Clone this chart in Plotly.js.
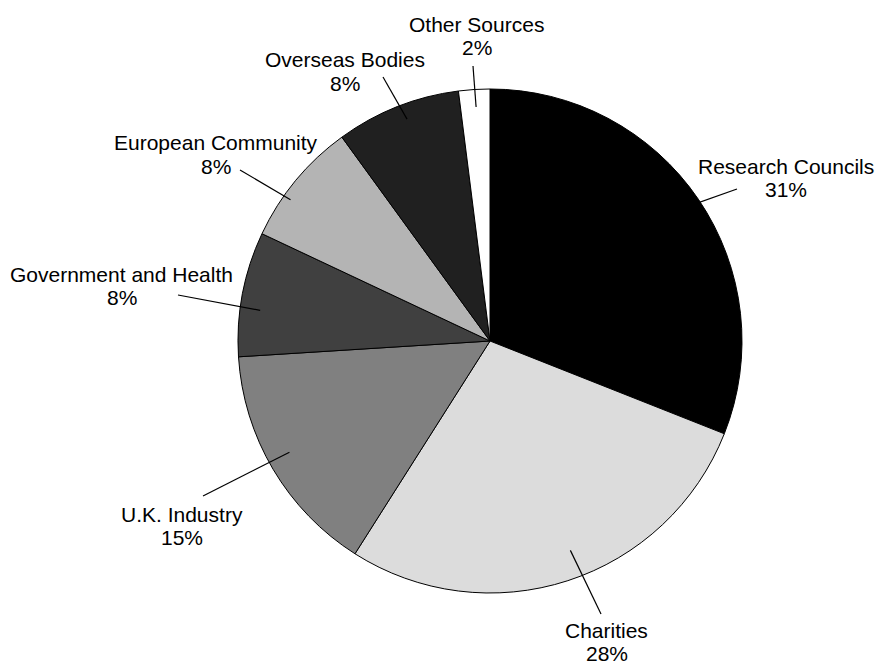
<!DOCTYPE html>
<html>
<head>
<meta charset="utf-8">
<script src="https://cdn.plot.ly/plotly-3.0.1.min.js"></script>
<style>html,body{margin:0;padding:0;background:#fff;}#chart{width:881px;height:666px;}</style>
</head>
<body>
<div id="chart"></div>
<script>
// ---- data ----
const categories = ['Research Councils', 'Charities', 'U.K. Industry', 'Government and Health', 'European Community', 'Overseas Bodies', 'Other Sources'];
const shares = [31, 28, 15, 8, 8, 8, 2];
const sliceColors = ['#000000', '#dcdcdc', '#808080', '#404040', '#b4b4b4', '#202020', '#ffffff'];

// ---- layout config (positions in px relative to pie centre) ----
const W = 881, H = 666;
const M = {l: 238, r: 139, t: 89, b: 73};
const PW = W - M.l - M.r, PH = H - M.t - M.b;
const R = Math.min(PW, PH) / 2;
const CX = M.l + PW / 2, CY = M.t + PH / 2;
const labelOffset = [[296, -168], [116.5, 296], [-308, 180], [-368.5, -60], [-274.5, -191], [-145, -274], [-13.5, -310]];
const leaderEnd = [[247, -152], [111, 273], [-287, 155], [-312, -46], [-250, -171], [-107, -264], [-17, -275]];
const leaderInner = [[0.95, 0], [0.89, -3], [0.91, 1.6], [0.92, -3.2], [0.97, -4.3], [0.94, 1.1], [0.93, 0.2]];
const LINE_GAP = 23;
const FONT = {family: 'Liberation Sans, Arial, sans-serif', size: 21, color: '#000'};

const px2x = px => (px - M.l) / PW;
const py2y = py => (M.t + PH - py) / PH;

const total = shares.reduce((a, b) => a + b, 0);
let cum = 0;
const annotations = [];
const shapes = [];
shares.forEach((v, i) => {
  const mid = (cum + v / 2) / total * 360;
  cum += v;
  const a = (mid + leaderInner[i][1]) * Math.PI / 180;
  const rIn = leaderInner[i][0] * R;
  const x0 = CX + rIn * Math.sin(a), y0 = CY - rIn * Math.cos(a);
  const x1 = CX + leaderEnd[i][0], y1 = CY + leaderEnd[i][1];
  shapes.push({type: 'line', xref: 'paper', yref: 'paper', x0: px2x(x0), y0: py2y(y0), x1: px2x(x1), y1: py2y(y1),
    line: {color: '#000', width: 1.2}});
  const lx = CX + labelOffset[i][0], b1 = CY + labelOffset[i][1];
  annotations.push({xref: 'paper', yref: 'paper', x: px2x(lx), y: py2y(b1 - 7), xanchor: 'center', yanchor: 'middle',
    text: categories[i], showarrow: false, font: FONT, borderpad: 0});
  annotations.push({xref: 'paper', yref: 'paper', x: px2x(lx), y: py2y(b1 + LINE_GAP - 7), xanchor: 'center', yanchor: 'middle',
    text: v + '%', showarrow: false, font: FONT, borderpad: 0});
});

const trace = {
  type: 'pie', labels: categories, values: shares, sort: false, direction: 'clockwise', rotation: 0,
  textinfo: 'none', hoverinfo: 'none', showlegend: false,
  marker: {colors: sliceColors, line: {color: '#000', width: 1}}
};

Plotly.newPlot('chart', [trace], {
  width: W, height: H, margin: M, paper_bgcolor: '#fff', plot_bgcolor: '#fff',
  showlegend: false, annotations: annotations, shapes: shapes
}, {displayModeBar: false, staticPlot: true});
</script>
</body>
</html>
